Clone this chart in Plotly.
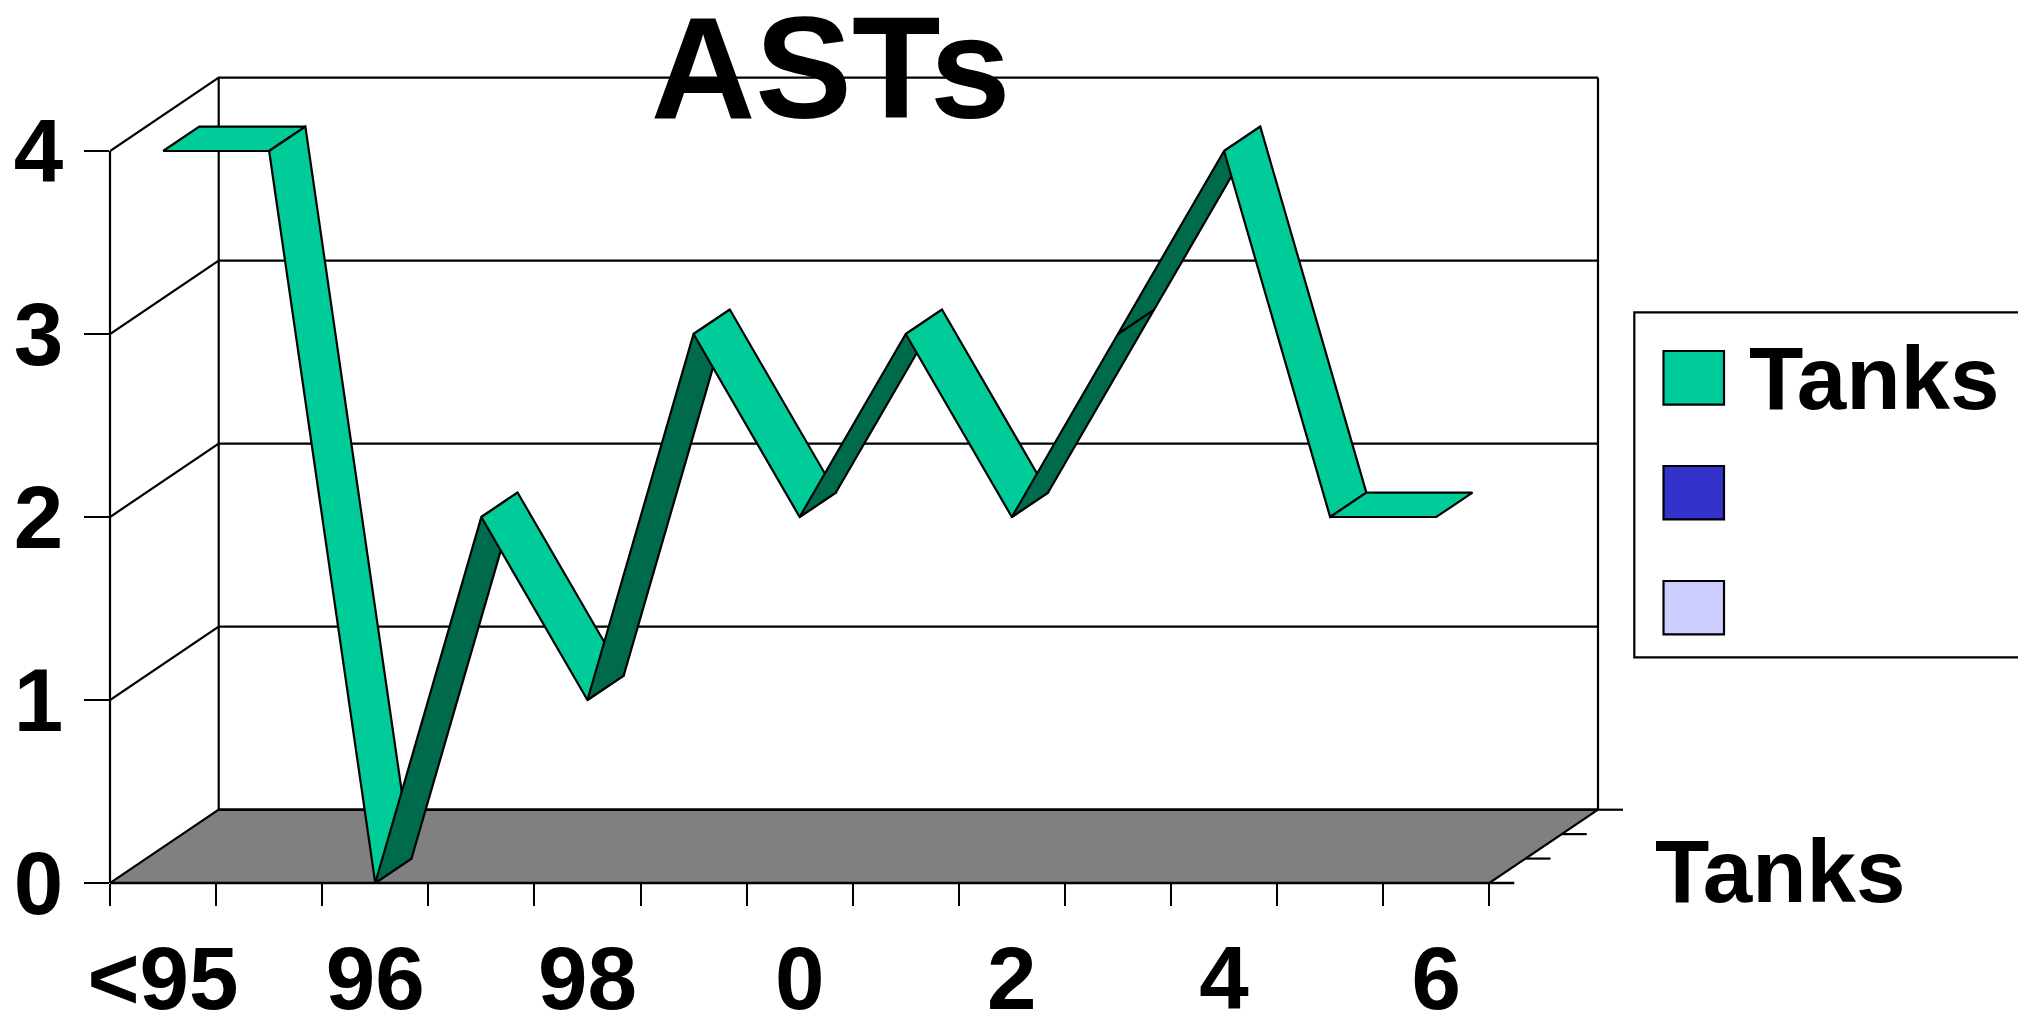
import plotly.graph_objects as go

# ---- data ----
categories = ["<95", "95", "96", "97", "98", "99", "0", "1", "2", "3", "4", "5", "6"]
tanks = [4, 4, 0, 2, 1, 3, 2, 3, 2, 3, 4, 2, 2]
y_ticks = [0, 1, 2, 3, 4]
legend_colors = ["#00CC99", "#3333CC", "#CCCCFF"]
BRIGHT, DARK, FLOOR = "#00CC99", "#006A4D", "#808080"

# ---- page geometry (pixels) ----
W, H = 2027, 1013
PL, PR, PB = 110.0, 2018.0, 883.0
CAT_PX, VAL_PX = 106.1, 183.0
def X(px): return -0.5 + (px - PL) / CAT_PX
def Y(py): return (PB - py) / VAL_PX

# oblique depth of the 3-D box, in axis units
DX, DY = 108.7 / CAT_PX, 73.3 / VAL_PX
RX, RY = DX / 3, DY / 3
N = len(categories)
x0, x1 = -0.5, N - 0.5
ymax = max(y_ticks)
BLACK = dict(color="black", width=2.2)
HEAVY = dict(color="black", width=2.6)
FS = 89

fig = go.Figure()

def line(xs, ys, style=BLACK):
    fig.add_trace(go.Scatter(x=xs, y=ys, mode="lines", hoverinfo="skip", showlegend=False,
                             cliponaxis=False, line=style))

# floor
fig.add_trace(go.Scatter(x=[x0, x1, x1 + DX, x0 + DX, x0], y=[0, 0, DY, DY, 0], mode="lines",
                         fill="toself", fillcolor=FLOOR, line=BLACK, hoverinfo="skip",
                         showlegend=False, cliponaxis=False))
line([x0 + DX, x1 + DX], [DY, DY], HEAVY)
# walls and gridlines
for v in y_ticks[1:]:
    line([x0, x0 + DX, x1 + DX], [v, v + DY, v + DY])
line([x0 + DX, x0 + DX], [DY, ymax + DY])
line([x1 + DX, x1 + DX], [DY, ymax + DY])
# depth ticks at the right of the floor
TICK = 25 / CAT_PX
for k in range(1, 4):
    xb, yb = x1 + DX * k / 3, DY * k / 3
    line([xb, xb + TICK], [yb, yb])

# ribbon, painted left to right
for i in range(N - 1):
    a, b = tanks[i], tanks[i + 1]
    fig.add_trace(go.Scatter(
        x=[i, i + 1, i + 1 + RX, i + RX, i],
        y=[a, b, b + RY, a + RY, a],
        mode="lines", fill="toself", fillcolor=DARK if b > a else BRIGHT,
        line=BLACK, name="Tanks", showlegend=False, cliponaxis=False,
        hovertemplate="%{y}<extra>Tanks</extra>"))

# legend label (clipped by the plot edge, like the reference)
fig.add_trace(go.Scatter(x=[X(1749)], y=[Y(387)], mode="text", text=["<b>Tanks</b>"], textposition="middle right",
                         textfont=dict(family="Liberation Sans", size=FS, color="black"),
                         hoverinfo="skip", showlegend=False, cliponaxis=True))

xspan = X(PR) - x0
yspan = Y(0)
# legend frame and swatches; front edges of the box (on the plot boundary, so in paper units)
shapes = [
    dict(type="line", xref="paper", yref="paper", layer="above", x0=0, x1=0, y0=0, y1=ymax / yspan, line=BLACK),
    dict(type="line", xref="paper", yref="paper", layer="above", x0=0, x1=(x1 - x0 + TICK) / xspan, y0=0, y1=0, line=HEAVY),
    dict(type="path", xref="x", yref="y", layer="above",
         path=f"M {X(2030)} {Y(312.3)} L {X(1634.3)} {Y(312.3)} L {X(1634.3)} {Y(657.3)} L {X(2030)} {Y(657.3)}",
         line=BLACK),
]
for color, top, bot in zip(legend_colors, [351, 466, 581], [404.7, 519.3, 634.3]):
    shapes.append(dict(type="rect", xref="x", yref="y", layer="above", x0=X(1663.5), x1=X(1724),
                       y0=Y(bot), y1=Y(top), fillcolor=color, line=BLACK))

fig.update_layout(
    width=W, height=H, autosize=False,
    margin=dict(l=PL, r=W - PR, t=0, b=H - PB, pad=0),
    paper_bgcolor="white", plot_bgcolor="white",
    showlegend=False, shapes=shapes,
    font=dict(family="Liberation Sans", color="black"),
    title=dict(text="<b>ASTs</b>", x=830.6 / W, xanchor="center", xref="container", yref="container",
               y=1 - 16 / H, yanchor="top", pad=dict(t=0, b=0), automargin=False,
               font=dict(family="Liberation Sans", size=145, color="black")),
    annotations=[dict(text="<b>Tanks</b>", x=X(1654), y=Y(871), xref="x", yref="y", xanchor="left",
                      yanchor="middle", showarrow=False, borderpad=0,
                      font=dict(family="Liberation Sans", size=FS, color="black"))],
    xaxis=dict(range=[x0, X(PR)], showgrid=False, zeroline=False, showline=False, automargin=False,
               tickmode="array", tickvals=list(range(0, N, 2)),
               ticktext=[f"<b>{categories[i]}</b>" for i in range(0, N, 2)],
               ticks="", ticklabelstandoff=36,
               tickfont=dict(family="Liberation Sans", size=FS, color="black"),
               minor=dict(tickmode="array", tickvals=[i - 0.5 for i in range(N + 1)],
                          ticks="outside", ticklen=22, tickwidth=2.2, tickcolor="black")),
    yaxis=dict(range=[0, Y(0)], showgrid=False, zeroline=False, showline=False, automargin=False,
               tickmode="array", tickvals=y_ticks, ticktext=[f"<b>{v}</b>" for v in y_ticks],
               ticks="outside", ticklen=25, tickwidth=2.2, tickcolor="black",
               ticklabelstandoff=3,
               tickfont=dict(family="Liberation Sans", size=FS, color="black")),
)

fig.write_html("out.html", config={"displayModeBar": False},
               post_script="document.body.style.margin='0';document.documentElement.style.overflow='hidden';")
